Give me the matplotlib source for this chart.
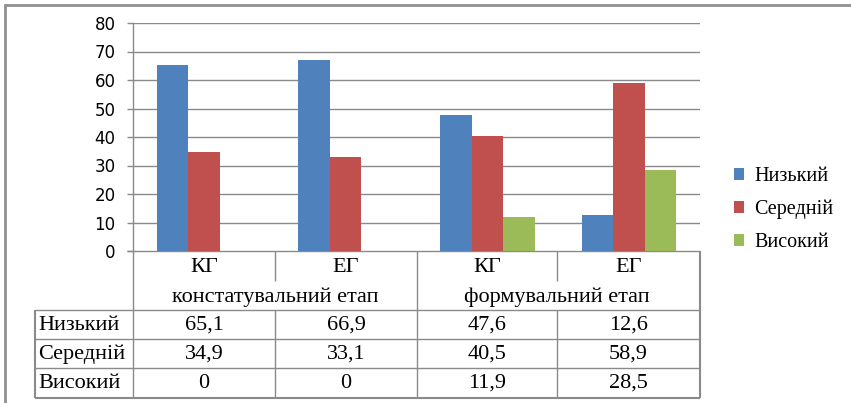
import numpy as np
import matplotlib
matplotlib.use('Agg')
import matplotlib.pyplot as plt

# data
groups = ['КГ', 'ЕГ', 'КГ', 'ЕГ']
stages = ['констатувальний етап', 'формувальний етап']
series = ['Низький', 'Середній', 'Високий']
nyzkyi = [65.1, 66.9, 47.6, 12.6]
serednii = [34.9, 33.1, 40.5, 58.9]
vysokyi = [0, 0, 11.9, 28.5]
colors = ['#4F81BD', '#C0504D', '#9BBB59']

W, H = 851, 403
fig = plt.figure(figsize=(W / 100, H / 100), dpi=100)
serif = 'Liberation Serif'
gridc = '#8a8a8a'

# plot area in pixel coords
x0, x1, ytop, ybot = 133, 700, 23, 251
ax = fig.add_axes([x0 / W, 1 - ybot / H, (x1 - x0) / W, (ybot - ytop) / H])
x = np.arange(len(groups))
bw = 0.222
for i, vals in enumerate([nyzkyi, serednii, vysokyi]):
    ax.bar(x + (i - 1) * bw, vals, bw, color=colors[i], zorder=3, label=series[i])
ax.set_xlim(-0.5, len(groups) - 0.5)
ax.set_ylim(0, 80)
ax.set_yticks(range(0, 81, 10))
ax.yaxis.grid(True, color=gridc, linewidth=1, zorder=0)
ax.set_xticks([])
for s in ['top', 'right', 'bottom']:
    ax.spines[s].set_visible(False)
ax.spines['left'].set_color(gridc)
ax.spines['left'].set_linewidth(1)
ax.tick_params(axis='y', length=4.5, color=gridc, width=1, labelsize=12,
               pad=8, labelcolor='#000000')

leg = fig.legend(loc='upper left', bbox_to_anchor=(716 / W, 1 - 149 / H),
                 frameon=False, prop={'family': serif, 'size': 14.5},
                 handlelength=0.5, handleheight=0.5, handletextpad=0.5,
                 labelspacing=0.68)

# overlay in pixel coordinates for frame and data table
ov = fig.add_axes([0, 0, 1, 1], zorder=-1)
ov.set_xlim(0, W)
ov.set_ylim(H, 0)
ov.axis('off')

def hline(y, xa, xb, c=gridc, lw=1):
    ov.plot([xa, xb], [y, y], color=c, lw=lw, solid_capstyle='butt')

def vline(xp, ya, yb, c=gridc, lw=1):
    ov.plot([xp, xp], [ya, yb], color=c, lw=lw, solid_capstyle='butt')

# outer frame (top & left only visible)
hline(4.5, 4, W, c='#909090', lw=2)
vline(4.5, 4, H, c='#909090', lw=2)

colx = [133, 275, 417, 557, 700]
rows = [251, 281, 310, 339, 368, 398]
lab_x = 35

hline(rows[0], 127, colx[-1])
hline(rows[2], lab_x, colx[-1])
hline(rows[3], lab_x, colx[-1])
hline(rows[4], lab_x, colx[-1])
hline(rows[5], lab_x, colx[-1], lw=1.5)
vline(lab_x, rows[2], rows[5], lw=1.5)
vline(colx[0], rows[0], rows[5])
vline(colx[2], rows[0], rows[5])
vline(colx[4], rows[0], rows[5], lw=1.5)
vline(colx[1], rows[0], rows[1])
vline(colx[3], rows[0], rows[1])
vline(colx[1], rows[2], rows[5])
vline(colx[3], rows[2], rows[5])

fs = 16
for j, g in enumerate(groups):
    cx = (colx[j] + colx[j + 1]) / 2
    ov.text(cx, 267, g, ha='center', va='center', family=serif, fontsize=fs)
for k, st in enumerate(stages):
    cx = colx[2 * k + 1]
    ov.text(cx, 297, st, ha='center', va='center', family=serif, fontsize=fs)

def fmt(v):
    return ('%g' % v).replace('.', ',')

row_y = [325, 354, 383]
for r, vals in enumerate([nyzkyi, serednii, vysokyi]):
    ov.text(lab_x + 3, row_y[r], series[r], ha='left', va='center',
            family=serif, fontsize=fs)
    for j, v in enumerate(vals):
        cx = (colx[j] + colx[j + 1]) / 2
        ov.text(cx, row_y[r], fmt(v), ha='center', va='center',
                family=serif, fontsize=fs)

fig.savefig('out.png', dpi=100)
